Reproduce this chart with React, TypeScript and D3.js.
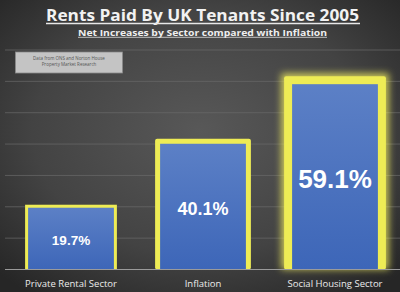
import React from "react";
import * as d3 from "d3";

const categories = ["Private Rental Sector", "Inflation", "Social Housing Sector"];
const values = [19.7, 40.1, 59.1];
const valueLabels = ["19.7%", "40.1%", "59.1%"];
const gridTicks = [10, 20, 30, 40, 50, 60, 70];
const title = "Rents Paid By UK Tenants Since 2005";
const subtitle = "Net Increases by Sector compared with Inflation";
const sourceLines = ["Data from ONS and Norton House", "Property Market Research"];

const W = 400, H = 292;
const borderW = [3, 5, 8];
const labelSize = [13.5, 18, 26];

export default function App() {
  const x = d3.scaleBand<string>().domain(categories).range([5, 401]).paddingInner(0.35).paddingOuter(0.175);
  const y = d3.scaleLinear().domain([0, 70]).range([269.5, 50]);
  const base = y(0);
  return (
    <svg width={W} height={H} style={{ position: "absolute", left: 0, top: 0 }}>
      <defs>
        <radialGradient id="bg" cx="50%" cy="45%" r="70%">
          <stop offset="0%" stopColor="#585858" />
          <stop offset="60%" stopColor="#434343" />
          <stop offset="100%" stopColor="#262626" />
        </radialGradient>
        <linearGradient id="bar" x1="0" y1="0" x2="0" y2="1">
          <stop offset="0%" stopColor="#5c80c6" />
          <stop offset="100%" stopColor="#3d66b8" />
        </linearGradient>
        <filter id="glow" x="-30%" y="-30%" width="160%" height="160%">
          <feGaussianBlur stdDeviation="3.5" />
        </filter>
        <filter id="soft" x="-10%" y="-10%" width="120%" height="120%">
          <feGaussianBlur stdDeviation="0.6" />
        </filter>
      </defs>
      <rect x={0} y={0} width={W} height={H} fill="url(#bg)" />
      {gridTicks.map((t) => (
        <line key={t} x1={5} x2={400} y1={y(t)} y2={y(t)} stroke="#6a6a6a" strokeWidth={0.7} />
      ))}
      <text x={202.5} y={20.5} textAnchor="middle" fill="#f2f2f2" fontFamily="Open Sans" fontWeight="bold" fontSize={16} textLength={313} lengthAdjust="spacingAndGlyphs">{title}</text>
      <line x1={46} x2={360} y1={23.5} y2={23.5} stroke="#e8e8e8" strokeWidth={1.3} />
      <text x={202.5} y={35.5} textAnchor="middle" fill="#eeeeee" fontFamily="Open Sans" fontWeight="bold" fontSize={9.5} textLength={249} lengthAdjust="spacingAndGlyphs">{subtitle}</text>
      <line x1={78} x2={327} y1={37.3} y2={37.3} stroke="#e0e0e0" strokeWidth={0.8} />
      <rect x={15.5} y={52} width={107} height={21} fill="#c4c4c4" stroke="#8a8a8a" strokeWidth={0.8} />
      {sourceLines.map((s, i) => (
        <text key={i} x={69} y={60 + i * 6} textAnchor="middle" fill="#555" fontFamily="Open Sans" fontSize={4.5}>{s}</text>
      ))}
      {categories.map((c, i) => {
        const bx = x(c)!;
        const bw = x.bandwidth();
        const top = y(values[i]);
        const b = borderW[i];
        return (
          <g key={c}>
            {i === 2 && (
              <rect x={bx - b - 3} y={top - b - 3} width={bw + 2 * b + 6} height={base - top + b + 3} fill="#f4f060" opacity={0.75} filter="url(#glow)" />
            )}
            <rect x={bx - b} y={top - b} width={bw + 2 * b} height={base - top + b} fill="#eeec55" rx={i === 0 ? 0 : 2} filter="url(#soft)" />
            <rect x={bx} y={top} width={bw} height={base - top} fill="url(#bar)" />
            <text x={bx + bw / 2} y={top + (i === 0 ? 37 : i === 1 ? 71 : 104)} textAnchor="middle" fill="#ffffff" fontFamily="Liberation Sans" fontWeight="bold" fontSize={labelSize[i]}>{valueLabels[i]}</text>
            <text x={bx + bw / 2} y={287} textAnchor="middle" fill="#ececec" fontFamily="Open Sans" fontSize={9.5}>{c}</text>
          </g>
        );
      })}
      <line x1={5} x2={400} y1={base} y2={base} stroke="#9a9a9a" strokeWidth={1} />
    </svg>
  );
}
